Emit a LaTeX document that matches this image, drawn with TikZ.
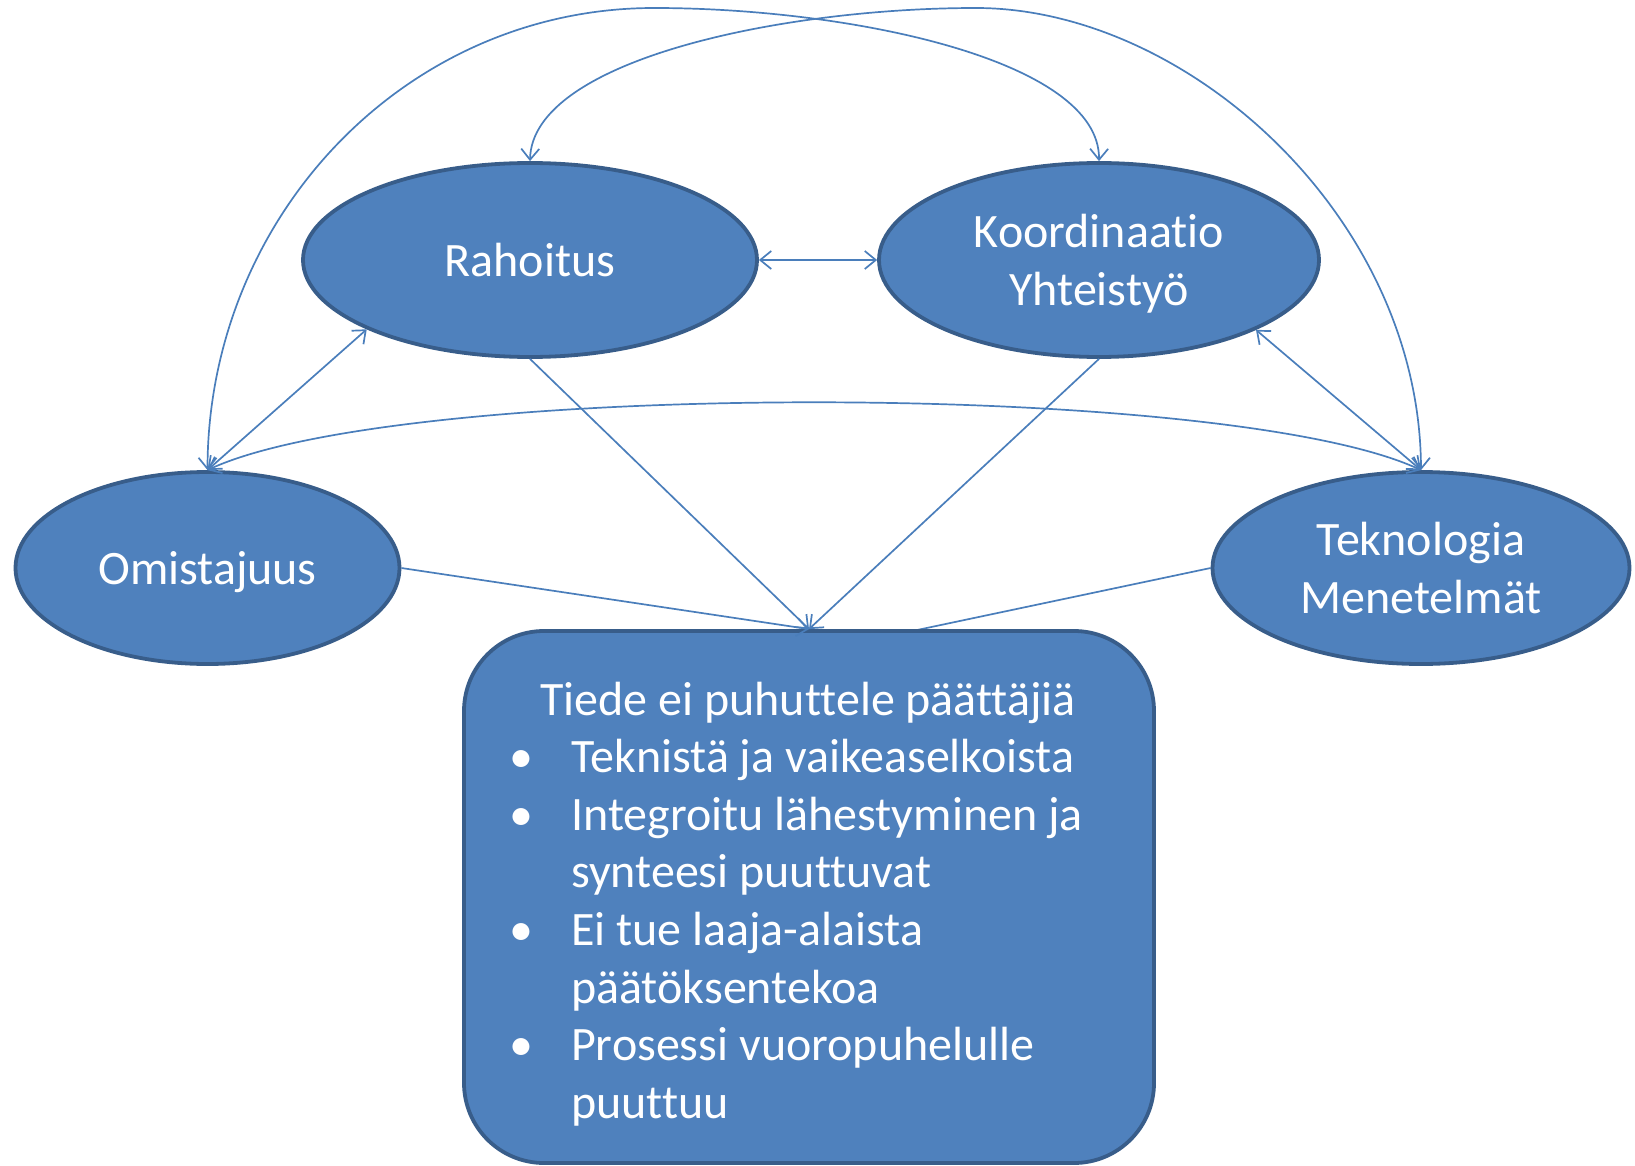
\documentclass[tikz,border=0pt]{standalone}
\usepackage{fontspec}
\setmainfont{Carlito}[Ligatures={NoCommon}]
\usetikzlibrary{arrows.meta,shapes.geometric,backgrounds}
\definecolor{fillc}{HTML}{4F81BD}
\definecolor{borderc}{HTML}{385D8A}
\definecolor{linec}{HTML}{4A7EBB}
\newcommand{\bitem}[1]{\hangindent=66pt\hangafter=1\noindent\makebox[66pt][l]{\hspace{4pt}•}#1\par}
\newcommand{\nl}{\hfill\break}
\begin{document}
\begin{tikzpicture}[x=1pt,y=-1pt,
  ell/.style={ellipse, draw=borderc, fill=fillc, line width=3.8pt, inner sep=0pt,
    text=white, align=center, font=\fontsize{48}{58}\selectfont},
  conn/.style={draw=linec, line width=1.7pt},
  twoway/.style={conn, {Straight Barb[length=11pt,width=18pt]}-{Straight Barb[length=11pt,width=18pt]}},
  oneway/.style={conn, -{Straight Barb[length=11pt,width=18pt]}},
  bigbox/.style={draw=borderc, fill=fillc, line width=3.8pt, rounded corners=80pt, inner sep=0pt}
]
\useasboundingbox (0,0) rectangle (1635,1166);

\node[ell, minimum width=454pt, minimum height=194pt] (rah) at (530,260) {Rahoitus};
\node[ell, minimum width=440pt, minimum height=194pt, text depth=0pt] (koo) at (1099,260) {Koordinaatio\\Yhteistyö};
\node[ell, minimum width=384pt, minimum height=192pt, text depth=0pt] (omi) at (207.5,568) {Omistajuus};
\node[ell, minimum width=417pt, minimum height=192pt] (tek) at (1421,568) {Teknologia\\Menetelmät};

\node[bigbox, minimum width=690pt, minimum height=532pt] (box) at (809,897) {};
\node[anchor=base west, text=white, inner sep=0pt, font=\fontsize{48}{57.6}\selectfont] (boxtxt) at (505,715)
  {\parbox[t]{606pt}{\centering Tiede ei puhuttele päättäjiä\par
   \raggedright
   \bitem{Teknistä ja vaikeaselkoista}
   \bitem{Integroitu lähestyminen ja\nl synteesi puuttuvat}
   \bitem{Ei tue laaja-alaista\nl päätöksentekoa}
   \bitem{Prosessi vuoropuhelulle\nl puuttuu}}};

\coordinate (hid) at (813,652);
\begin{pgfonlayer}{background}
\draw[oneway] (tek.west) -- (hid);
\end{pgfonlayer}

\draw[twoway] (rah.east) -- (koo.west);
\draw[twoway] (omi.north) -- (rah.203);
\draw[twoway] (tek.north) -- (koo.336);
\draw[twoway] (omi.north) .. controls (400,380) and (1228,380) .. (tek.north);
\draw[twoway] (omi.north) .. controls (208,217) and (405,8) .. (654,8)
  .. controls (850,8) and (1100,60) .. (koo.north);
\draw[twoway] (rah.north) .. controls (532,60) and (782,8) .. (976,8)
  .. controls (1187,8) and (1420,217) .. (tek.north);

\draw[oneway] (rah.south) -- (box.north);
\draw[oneway] (koo.south) -- (box.north);
\draw[oneway] (omi.east) -- (box.north);
\end{tikzpicture}
\end{document}
